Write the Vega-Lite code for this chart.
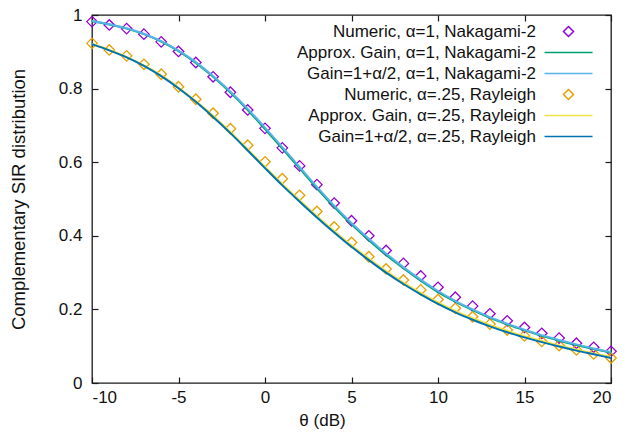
{
  "$schema": "https://vega.github.io/schema/vega-lite/v6.json",
  "width": 519,
  "height": 368,
  "autosize": {"type": "none"},
  "padding": {"left": 92, "top": 15, "right": 17, "bottom": 56},
  "background": "white",
  "config": {
    "font": "Liberation Sans",
    "view": {"stroke": "#1a1a1a", "strokeWidth": 1.3},
    "axis": {
      "grid": false, "domain": false, "tickColor": "#1a1a1a", "tickSize": 6, "tickWidth": 1.2,
      "labelColor": "#111", "labelFont": "Liberation Sans", "labelFontSize": 17,
      "titleFont": "Liberation Sans", "titleFontSize": 17, "titleFontWeight": "normal", "titleColor": "#111"
    },
    "legend": {
      "labelFont": "Liberation Sans", "labelFontSize": 17, "labelColor": "#111", "labelLimit": 0
    }
  },
  "datasets": {
    "pts": [
      {"s": "Numeric, α=1, Nakagami-2", "x": -10, "y": 0.982}, {"s": "Numeric, α=1, Nakagami-2", "x": -9, "y": 0.973},
      {"s": "Numeric, α=1, Nakagami-2", "x": -8, "y": 0.963}, {"s": "Numeric, α=1, Nakagami-2", "x": -7, "y": 0.948},
      {"s": "Numeric, α=1, Nakagami-2", "x": -6, "y": 0.927}, {"s": "Numeric, α=1, Nakagami-2", "x": -5, "y": 0.901},
      {"s": "Numeric, α=1, Nakagami-2", "x": -4, "y": 0.871}, {"s": "Numeric, α=1, Nakagami-2", "x": -3, "y": 0.832},
      {"s": "Numeric, α=1, Nakagami-2", "x": -2, "y": 0.790}, {"s": "Numeric, α=1, Nakagami-2", "x": -1, "y": 0.742},
      {"s": "Numeric, α=1, Nakagami-2", "x": 0, "y": 0.692}, {"s": "Numeric, α=1, Nakagami-2", "x": 1, "y": 0.639},
      {"s": "Numeric, α=1, Nakagami-2", "x": 2, "y": 0.590}, {"s": "Numeric, α=1, Nakagami-2", "x": 3, "y": 0.539},
      {"s": "Numeric, α=1, Nakagami-2", "x": 4, "y": 0.489}, {"s": "Numeric, α=1, Nakagami-2", "x": 5, "y": 0.441},
      {"s": "Numeric, α=1, Nakagami-2", "x": 6, "y": 0.400}, {"s": "Numeric, α=1, Nakagami-2", "x": 7, "y": 0.360},
      {"s": "Numeric, α=1, Nakagami-2", "x": 8, "y": 0.325}, {"s": "Numeric, α=1, Nakagami-2", "x": 9, "y": 0.291},
      {"s": "Numeric, α=1, Nakagami-2", "x": 10, "y": 0.260}, {"s": "Numeric, α=1, Nakagami-2", "x": 11, "y": 0.233},
      {"s": "Numeric, α=1, Nakagami-2", "x": 12, "y": 0.209}, {"s": "Numeric, α=1, Nakagami-2", "x": 13, "y": 0.188},
      {"s": "Numeric, α=1, Nakagami-2", "x": 14, "y": 0.169}, {"s": "Numeric, α=1, Nakagami-2", "x": 15, "y": 0.151},
      {"s": "Numeric, α=1, Nakagami-2", "x": 16, "y": 0.135}, {"s": "Numeric, α=1, Nakagami-2", "x": 17, "y": 0.122},
      {"s": "Numeric, α=1, Nakagami-2", "x": 18, "y": 0.108}, {"s": "Numeric, α=1, Nakagami-2", "x": 19, "y": 0.097},
      {"s": "Numeric, α=1, Nakagami-2", "x": 20, "y": 0.086},
      {"s": "Numeric, α=.25, Rayleigh", "x": -10, "y": 0.923}, {"s": "Numeric, α=.25, Rayleigh", "x": -9, "y": 0.905},
      {"s": "Numeric, α=.25, Rayleigh", "x": -8, "y": 0.889}, {"s": "Numeric, α=.25, Rayleigh", "x": -7, "y": 0.866},
      {"s": "Numeric, α=.25, Rayleigh", "x": -6, "y": 0.839}, {"s": "Numeric, α=.25, Rayleigh", "x": -5, "y": 0.805},
      {"s": "Numeric, α=.25, Rayleigh", "x": -4, "y": 0.771}, {"s": "Numeric, α=.25, Rayleigh", "x": -3, "y": 0.733},
      {"s": "Numeric, α=.25, Rayleigh", "x": -2, "y": 0.691}, {"s": "Numeric, α=.25, Rayleigh", "x": -1, "y": 0.646},
      {"s": "Numeric, α=.25, Rayleigh", "x": 0, "y": 0.601}, {"s": "Numeric, α=.25, Rayleigh", "x": 1, "y": 0.555},
      {"s": "Numeric, α=.25, Rayleigh", "x": 2, "y": 0.510}, {"s": "Numeric, α=.25, Rayleigh", "x": 3, "y": 0.466},
      {"s": "Numeric, α=.25, Rayleigh", "x": 4, "y": 0.424}, {"s": "Numeric, α=.25, Rayleigh", "x": 5, "y": 0.382},
      {"s": "Numeric, α=.25, Rayleigh", "x": 6, "y": 0.343}, {"s": "Numeric, α=.25, Rayleigh", "x": 7, "y": 0.310},
      {"s": "Numeric, α=.25, Rayleigh", "x": 8, "y": 0.280}, {"s": "Numeric, α=.25, Rayleigh", "x": 9, "y": 0.253},
      {"s": "Numeric, α=.25, Rayleigh", "x": 10, "y": 0.227}, {"s": "Numeric, α=.25, Rayleigh", "x": 11, "y": 0.203},
      {"s": "Numeric, α=.25, Rayleigh", "x": 12, "y": 0.180}, {"s": "Numeric, α=.25, Rayleigh", "x": 13, "y": 0.160},
      {"s": "Numeric, α=.25, Rayleigh", "x": 14, "y": 0.144}, {"s": "Numeric, α=.25, Rayleigh", "x": 15, "y": 0.128},
      {"s": "Numeric, α=.25, Rayleigh", "x": 16, "y": 0.113}, {"s": "Numeric, α=.25, Rayleigh", "x": 17, "y": 0.102},
      {"s": "Numeric, α=.25, Rayleigh", "x": 18, "y": 0.090}, {"s": "Numeric, α=.25, Rayleigh", "x": 19, "y": 0.079},
      {"s": "Numeric, α=.25, Rayleigh", "x": 20, "y": 0.068}
    ],
    "lines": [
      {"s": "Approx. Gain, α=1, Nakagami-2", "x": -10, "y": 0.983}, {"s": "Approx. Gain, α=1, Nakagami-2", "x": -9, "y": 0.974},
      {"s": "Approx. Gain, α=1, Nakagami-2", "x": -8, "y": 0.963}, {"s": "Approx. Gain, α=1, Nakagami-2", "x": -7, "y": 0.948},
      {"s": "Approx. Gain, α=1, Nakagami-2", "x": -6, "y": 0.928}, {"s": "Approx. Gain, α=1, Nakagami-2", "x": -5, "y": 0.902},
      {"s": "Approx. Gain, α=1, Nakagami-2", "x": -4, "y": 0.870}, {"s": "Approx. Gain, α=1, Nakagami-2", "x": -3, "y": 0.832},
      {"s": "Approx. Gain, α=1, Nakagami-2", "x": -2, "y": 0.789}, {"s": "Approx. Gain, α=1, Nakagami-2", "x": -1, "y": 0.742},
      {"s": "Approx. Gain, α=1, Nakagami-2", "x": 0, "y": 0.690}, {"s": "Approx. Gain, α=1, Nakagami-2", "x": 1, "y": 0.637},
      {"s": "Approx. Gain, α=1, Nakagami-2", "x": 2, "y": 0.583}, {"s": "Approx. Gain, α=1, Nakagami-2", "x": 3, "y": 0.529},
      {"s": "Approx. Gain, α=1, Nakagami-2", "x": 4, "y": 0.478}, {"s": "Approx. Gain, α=1, Nakagami-2", "x": 5, "y": 0.431},
      {"s": "Approx. Gain, α=1, Nakagami-2", "x": 6, "y": 0.388}, {"s": "Approx. Gain, α=1, Nakagami-2", "x": 7, "y": 0.348},
      {"s": "Approx. Gain, α=1, Nakagami-2", "x": 8, "y": 0.312}, {"s": "Approx. Gain, α=1, Nakagami-2", "x": 9, "y": 0.278},
      {"s": "Approx. Gain, α=1, Nakagami-2", "x": 10, "y": 0.247}, {"s": "Approx. Gain, α=1, Nakagami-2", "x": 11, "y": 0.221},
      {"s": "Approx. Gain, α=1, Nakagami-2", "x": 12, "y": 0.198}, {"s": "Approx. Gain, α=1, Nakagami-2", "x": 13, "y": 0.177},
      {"s": "Approx. Gain, α=1, Nakagami-2", "x": 14, "y": 0.159}, {"s": "Approx. Gain, α=1, Nakagami-2", "x": 15, "y": 0.143},
      {"s": "Approx. Gain, α=1, Nakagami-2", "x": 16, "y": 0.128}, {"s": "Approx. Gain, α=1, Nakagami-2", "x": 17, "y": 0.115},
      {"s": "Approx. Gain, α=1, Nakagami-2", "x": 18, "y": 0.103}, {"s": "Approx. Gain, α=1, Nakagami-2", "x": 19, "y": 0.092},
      {"s": "Approx. Gain, α=1, Nakagami-2", "x": 20, "y": 0.082},
      {"s": "Gain=1+α/2, α=1, Nakagami-2", "x": -10, "y": 0.984}, {"s": "Gain=1+α/2, α=1, Nakagami-2", "x": -9, "y": 0.975},
      {"s": "Gain=1+α/2, α=1, Nakagami-2", "x": -8, "y": 0.964}, {"s": "Gain=1+α/2, α=1, Nakagami-2", "x": -7, "y": 0.949},
      {"s": "Gain=1+α/2, α=1, Nakagami-2", "x": -6, "y": 0.929}, {"s": "Gain=1+α/2, α=1, Nakagami-2", "x": -5, "y": 0.903},
      {"s": "Gain=1+α/2, α=1, Nakagami-2", "x": -4, "y": 0.872}, {"s": "Gain=1+α/2, α=1, Nakagami-2", "x": -3, "y": 0.834},
      {"s": "Gain=1+α/2, α=1, Nakagami-2", "x": -2, "y": 0.792}, {"s": "Gain=1+α/2, α=1, Nakagami-2", "x": -1, "y": 0.745},
      {"s": "Gain=1+α/2, α=1, Nakagami-2", "x": 0, "y": 0.694}, {"s": "Gain=1+α/2, α=1, Nakagami-2", "x": 1, "y": 0.641},
      {"s": "Gain=1+α/2, α=1, Nakagami-2", "x": 2, "y": 0.587}, {"s": "Gain=1+α/2, α=1, Nakagami-2", "x": 3, "y": 0.533},
      {"s": "Gain=1+α/2, α=1, Nakagami-2", "x": 4, "y": 0.482}, {"s": "Gain=1+α/2, α=1, Nakagami-2", "x": 5, "y": 0.435},
      {"s": "Gain=1+α/2, α=1, Nakagami-2", "x": 6, "y": 0.392}, {"s": "Gain=1+α/2, α=1, Nakagami-2", "x": 7, "y": 0.352},
      {"s": "Gain=1+α/2, α=1, Nakagami-2", "x": 8, "y": 0.315}, {"s": "Gain=1+α/2, α=1, Nakagami-2", "x": 9, "y": 0.281},
      {"s": "Gain=1+α/2, α=1, Nakagami-2", "x": 10, "y": 0.250}, {"s": "Gain=1+α/2, α=1, Nakagami-2", "x": 11, "y": 0.223},
      {"s": "Gain=1+α/2, α=1, Nakagami-2", "x": 12, "y": 0.200}, {"s": "Gain=1+α/2, α=1, Nakagami-2", "x": 13, "y": 0.179},
      {"s": "Gain=1+α/2, α=1, Nakagami-2", "x": 14, "y": 0.161}, {"s": "Gain=1+α/2, α=1, Nakagami-2", "x": 15, "y": 0.145},
      {"s": "Gain=1+α/2, α=1, Nakagami-2", "x": 16, "y": 0.130}, {"s": "Gain=1+α/2, α=1, Nakagami-2", "x": 17, "y": 0.117},
      {"s": "Gain=1+α/2, α=1, Nakagami-2", "x": 18, "y": 0.105}, {"s": "Gain=1+α/2, α=1, Nakagami-2", "x": 19, "y": 0.094},
      {"s": "Gain=1+α/2, α=1, Nakagami-2", "x": 20, "y": 0.084},
      {"s": "Approx. Gain, α=.25, Rayleigh", "x": -10, "y": 0.922}, {"s": "Approx. Gain, α=.25, Rayleigh", "x": -9, "y": 0.905},
      {"s": "Approx. Gain, α=.25, Rayleigh", "x": -8, "y": 0.886}, {"s": "Approx. Gain, α=.25, Rayleigh", "x": -7, "y": 0.863},
      {"s": "Approx. Gain, α=.25, Rayleigh", "x": -6, "y": 0.836}, {"s": "Approx. Gain, α=.25, Rayleigh", "x": -5, "y": 0.803},
      {"s": "Approx. Gain, α=.25, Rayleigh", "x": -4, "y": 0.766}, {"s": "Approx. Gain, α=.25, Rayleigh", "x": -3, "y": 0.726},
      {"s": "Approx. Gain, α=.25, Rayleigh", "x": -2, "y": 0.682}, {"s": "Approx. Gain, α=.25, Rayleigh", "x": -1, "y": 0.635},
      {"s": "Approx. Gain, α=.25, Rayleigh", "x": 0, "y": 0.588}, {"s": "Approx. Gain, α=.25, Rayleigh", "x": 1, "y": 0.541},
      {"s": "Approx. Gain, α=.25, Rayleigh", "x": 2, "y": 0.497}, {"s": "Approx. Gain, α=.25, Rayleigh", "x": 3, "y": 0.454},
      {"s": "Approx. Gain, α=.25, Rayleigh", "x": 4, "y": 0.413}, {"s": "Approx. Gain, α=.25, Rayleigh", "x": 5, "y": 0.374},
      {"s": "Approx. Gain, α=.25, Rayleigh", "x": 6, "y": 0.338}, {"s": "Approx. Gain, α=.25, Rayleigh", "x": 7, "y": 0.304},
      {"s": "Approx. Gain, α=.25, Rayleigh", "x": 8, "y": 0.273}, {"s": "Approx. Gain, α=.25, Rayleigh", "x": 9, "y": 0.245},
      {"s": "Approx. Gain, α=.25, Rayleigh", "x": 10, "y": 0.219}, {"s": "Approx. Gain, α=.25, Rayleigh", "x": 11, "y": 0.196},
      {"s": "Approx. Gain, α=.25, Rayleigh", "x": 12, "y": 0.176}, {"s": "Approx. Gain, α=.25, Rayleigh", "x": 13, "y": 0.158},
      {"s": "Approx. Gain, α=.25, Rayleigh", "x": 14, "y": 0.142}, {"s": "Approx. Gain, α=.25, Rayleigh", "x": 15, "y": 0.127},
      {"s": "Approx. Gain, α=.25, Rayleigh", "x": 16, "y": 0.114}, {"s": "Approx. Gain, α=.25, Rayleigh", "x": 17, "y": 0.102},
      {"s": "Approx. Gain, α=.25, Rayleigh", "x": 18, "y": 0.091}, {"s": "Approx. Gain, α=.25, Rayleigh", "x": 19, "y": 0.080},
      {"s": "Approx. Gain, α=.25, Rayleigh", "x": 20, "y": 0.071},
      {"s": "Gain=1+α/2, α=.25, Rayleigh", "x": -10, "y": 0.921}, {"s": "Gain=1+α/2, α=.25, Rayleigh", "x": -9, "y": 0.904},
      {"s": "Gain=1+α/2, α=.25, Rayleigh", "x": -8, "y": 0.885}, {"s": "Gain=1+α/2, α=.25, Rayleigh", "x": -7, "y": 0.862},
      {"s": "Gain=1+α/2, α=.25, Rayleigh", "x": -6, "y": 0.834}, {"s": "Gain=1+α/2, α=.25, Rayleigh", "x": -5, "y": 0.801},
      {"s": "Gain=1+α/2, α=.25, Rayleigh", "x": -4, "y": 0.764}, {"s": "Gain=1+α/2, α=.25, Rayleigh", "x": -3, "y": 0.723},
      {"s": "Gain=1+α/2, α=.25, Rayleigh", "x": -2, "y": 0.679}, {"s": "Gain=1+α/2, α=.25, Rayleigh", "x": -1, "y": 0.632},
      {"s": "Gain=1+α/2, α=.25, Rayleigh", "x": 0, "y": 0.584}, {"s": "Gain=1+α/2, α=.25, Rayleigh", "x": 1, "y": 0.537},
      {"s": "Gain=1+α/2, α=.25, Rayleigh", "x": 2, "y": 0.493}, {"s": "Gain=1+α/2, α=.25, Rayleigh", "x": 3, "y": 0.450},
      {"s": "Gain=1+α/2, α=.25, Rayleigh", "x": 4, "y": 0.409}, {"s": "Gain=1+α/2, α=.25, Rayleigh", "x": 5, "y": 0.370},
      {"s": "Gain=1+α/2, α=.25, Rayleigh", "x": 6, "y": 0.334}, {"s": "Gain=1+α/2, α=.25, Rayleigh", "x": 7, "y": 0.300},
      {"s": "Gain=1+α/2, α=.25, Rayleigh", "x": 8, "y": 0.269}, {"s": "Gain=1+α/2, α=.25, Rayleigh", "x": 9, "y": 0.241},
      {"s": "Gain=1+α/2, α=.25, Rayleigh", "x": 10, "y": 0.215}, {"s": "Gain=1+α/2, α=.25, Rayleigh", "x": 11, "y": 0.192},
      {"s": "Gain=1+α/2, α=.25, Rayleigh", "x": 12, "y": 0.172}, {"s": "Gain=1+α/2, α=.25, Rayleigh", "x": 13, "y": 0.154},
      {"s": "Gain=1+α/2, α=.25, Rayleigh", "x": 14, "y": 0.138}, {"s": "Gain=1+α/2, α=.25, Rayleigh", "x": 15, "y": 0.124},
      {"s": "Gain=1+α/2, α=.25, Rayleigh", "x": 16, "y": 0.111}, {"s": "Gain=1+α/2, α=.25, Rayleigh", "x": 17, "y": 0.099},
      {"s": "Gain=1+α/2, α=.25, Rayleigh", "x": 18, "y": 0.088}, {"s": "Gain=1+α/2, α=.25, Rayleigh", "x": 19, "y": 0.078},
      {"s": "Gain=1+α/2, α=.25, Rayleigh", "x": 20, "y": 0.068}
    ]
  },
  "resolve": {"axis": {"x": "independent", "y": "independent"}},
  "layer": [
    {
      "data": {"name": "pts"},
      "mark": {"type": "point", "filled": false, "strokeWidth": 1.3, "size": 110, "opacity": 1},
      "encoding": {
        "x": {"field": "x", "type": "quantitative", "scale": {"domain": [-10, 20], "nice": false, "zero": false},
          "axis": {"orient": "top", "labels": false, "title": null, "values": [-10, -5, 0, 5, 10, 15, 20], "offset": -6}},
        "y": {"field": "y", "type": "quantitative", "scale": {"domain": [0, 1], "nice": false},
          "axis": {"orient": "right", "labels": false, "title": null, "values": [0, 0.2, 0.4, 0.6, 0.8, 1], "offset": -6}},
        "color": {"field": "s", "type": "nominal",
          "scale": {
            "domain": ["Numeric, α=1, Nakagami-2", "Approx. Gain, α=1, Nakagami-2", "Gain=1+α/2, α=1, Nakagami-2", "Numeric, α=.25, Rayleigh", "Approx. Gain, α=.25, Rayleigh", "Gain=1+α/2, α=.25, Rayleigh"],
            "range": ["#9400d3", "#009e73", "#56b4e9", "#e69f00", "#f0e442", "#0072b2"]
          },
          "legend": {
            "title": null, "orient": "none", "legendX": 468, "legendY": 8, "padding": 0,
            "labelAlign": "right", "labelOffset": -41, "symbolOffset": 0, "symbolSize": 100, "rowPadding": 3,
            "labelFontSize": 17, "labelLimit": 0,
            "encode": {"symbols": {"update": {"strokeWidth": {"signal": "indexof(datum.value, 'Numeric') === 0 ? 1.3 : 2"}}}}
          }
        },
        "shape": {"field": "s", "type": "nominal",
          "scale": {
            "domain": ["Numeric, α=1, Nakagami-2", "Approx. Gain, α=1, Nakagami-2", "Gain=1+α/2, α=1, Nakagami-2", "Numeric, α=.25, Rayleigh", "Approx. Gain, α=.25, Rayleigh", "Gain=1+α/2, α=.25, Rayleigh"],
            "range": ["diamond", "M-4.8,0L4.8,0", "M-4.8,0L4.8,0", "diamond", "M-4.8,0L4.8,0", "M-4.8,0L4.8,0"]
          },
          "legend": {
            "title": null, "orient": "none", "legendX": 468, "legendY": 8, "padding": 0,
            "labelAlign": "right", "labelOffset": -41, "symbolOffset": 0, "symbolSize": 100, "rowPadding": 3,
            "labelFontSize": 17, "labelLimit": 0
          }
        }
      }
    },
    {
      "data": {"name": "lines"},
      "mark": {"type": "line", "strokeWidth": 2, "interpolate": "monotone"},
      "encoding": {
        "x": {"field": "x", "type": "quantitative", "title": "θ (dB)",
          "axis": {"orient": "bottom", "values": [-10, -5, 0, 5, 10, 15, 20], "offset": -6, "labelPadding": 6,
            "labelExpr": "'' + datum.value", "titlePadding": 7, "titleX": 230}},
        "y": {"field": "y", "type": "quantitative", "title": "Complementary SIR distribution",
          "axis": {"orient": "left", "values": [0, 0.2, 0.4, 0.6, 0.8, 1], "format": "~g", "offset": -6,
            "labelPadding": 10, "titlePadding": 30, "titleFontSize": 18.5}},
        "color": {"field": "s", "type": "nominal"}
      }
    }
  ]
}
